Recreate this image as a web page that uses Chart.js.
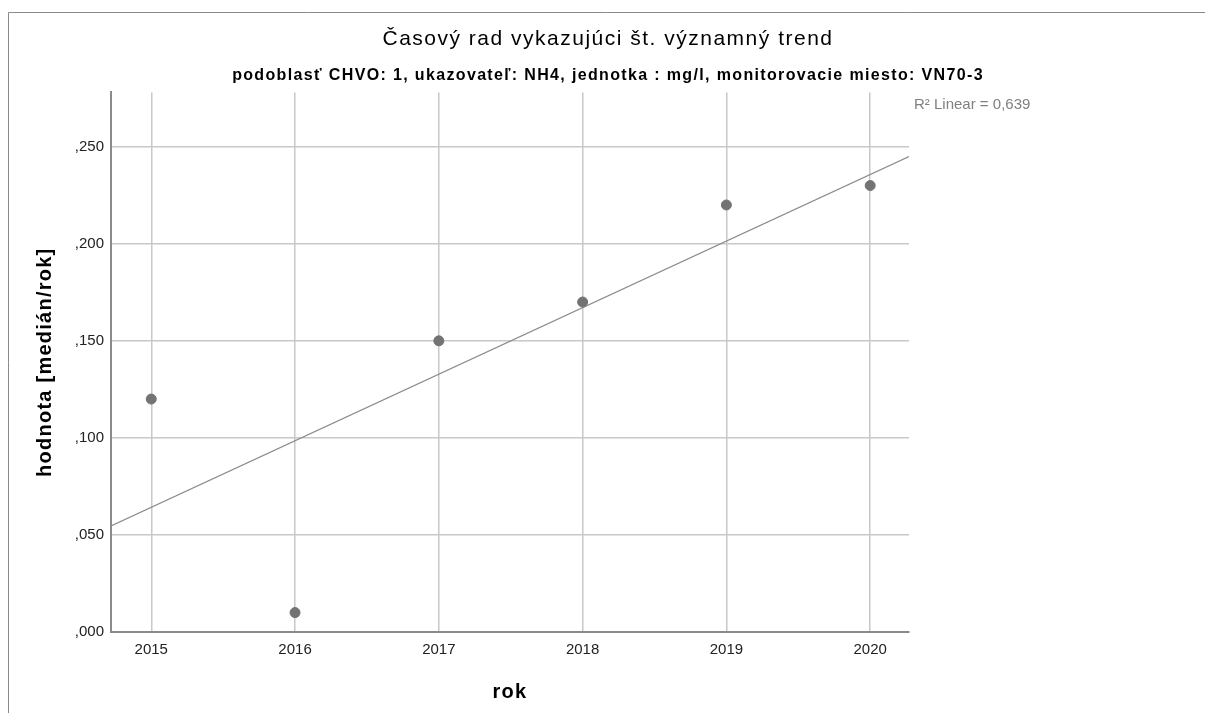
<!DOCTYPE html>
<html>
<head>
<meta charset="utf-8">
<script src="https://cdn.jsdelivr.net/npm/chart.js@4"></script>
<style>
html,body{margin:0;padding:0;background:#fff;}
#wrap{width:1205px;height:713px;position:relative;}
</style>
</head>
<body>
<div id="wrap"><canvas id="c" width="1205" height="713"></canvas></div>
<script>
const years = [2015, 2016, 2017, 2018, 2019, 2020];
const values = [0.12, 0.01, 0.15, 0.17, 0.22, 0.23];
const yTicks = [0, 0.05, 0.10, 0.15, 0.20, 0.25];
const xMin = 2014.72, xMax = 2020.27;
const yMin = 0, yMax = 0.278;
const r2Label = 'R² Linear = 0,639';

// least-squares linear fit from the data
const n = years.length;
const mx = years.reduce((a, b) => a + b, 0) / n;
const my = values.reduce((a, b) => a + b, 0) / n;
let sxy = 0, sxx = 0;
for (let i = 0; i < n; i++) { sxy += (years[i] - mx) * (values[i] - my); sxx += (years[i] - mx) ** 2; }
const slope = sxy / sxx, intercept = my - slope * mx;
const fitLine = [xMin, xMax].map(x => ({ x: x, y: intercept + slope * x }));

const FONT = "'Liberation Sans', Arial, sans-serif";

// letter spacing per font (the reference text is spaced wider than plain Arial)
const spacingFor = f => {
  if (/^(normal |400 )?21px/.test(f)) return '1.5px';
  if (/^(bold|700) 16px/.test(f)) return '1.35px';
  if (/^(bold|700) 20px/.test(f)) return '1.25px';
  return '0px';
};

const decor = {
  id: 'decor',
  beforeInit(chart) {
    const ctx = chart.ctx;
    const orig = ctx.fillText.bind(ctx);
    ctx.fillText = function (t, x, y, mw) {
      const prev = ctx.letterSpacing;
      ctx.letterSpacing = spacingFor(ctx.font);
      if (mw === undefined) orig(t, x, y); else orig(t, x, y, mw);
      ctx.letterSpacing = prev;
    };
  },
  beforeDraw(chart) {
    const ctx = chart.ctx;
    ctx.save();
    ctx.strokeStyle = '#8a8a8a';
    ctx.lineWidth = 1;
    ctx.beginPath();
    ctx.moveTo(8.5, 713);
    ctx.lineTo(8.5, 12.5);
    ctx.lineTo(1205, 12.5);
    ctx.stroke();
    ctx.restore();
  },
  afterDraw(chart) {
    const ctx = chart.ctx;
    const a = chart.chartArea;
    ctx.save();
    ctx.font = '15px ' + FONT;
    ctx.fillStyle = '#808080';
    ctx.textBaseline = 'middle';
    ctx.textAlign = 'left';
    ctx.letterSpacing = '0.5px';
    ctx.fillText(r2Label, a.right + 5, a.top + 12);
    ctx.restore();
  }
};

new Chart(document.getElementById('c'), {
  type: 'scatter',
  data: {
    datasets: [
      {
        type: 'line',
        data: fitLine,
        borderColor: '#8c8c8c',
        borderWidth: 1.2,
        pointRadius: 0,
        fill: false,
        order: 2
      },
      {
        data: years.map((y, i) => ({ x: y, y: values[i] })),
        backgroundColor: '#737373',
        borderColor: '#737373',
        pointRadius: 5,
        order: 1
      }
    ]
  },
  options: {
    responsive: false,
    animation: false,
    events: [],
    layout: { padding: { left: 11, right: 0, top: 0, bottom: 0 } },
    plugins: {
      legend: { display: false },
      tooltip: { enabled: false },
      title: {
        display: true,
        text: 'Časový rad vykazujúci št. významný trend',
        color: '#000',
        font: { family: FONT, size: 21, weight: 'normal', lineHeight: 1.2 },
        padding: { top: 27, bottom: 0 }
      },
      subtitle: {
        display: true,
        text: 'podoblasť CHVO: 1, ukazovateľ: NH4, jednotka : mg/l, monitorovacie miesto: VN70-3',
        color: '#000',
        font: { family: FONT, size: 16, weight: 'bold', lineHeight: 1.2 },
        padding: { top: 14, bottom: 7 }
      }
    },
    scales: {
      x: {
        type: 'linear',
        min: xMin,
        max: xMax,
        afterBuildTicks: s => { s.ticks = years.map(v => ({ value: v })); },
        afterFit: s => { s.height = 81; },
        ticks: {
          color: '#222',
          font: { family: FONT, size: 15 },
          padding: 9,
          callback: v => String(v)
        },
        grid: { color: '#c8c8c8', lineWidth: 1.5, drawTicks: false },
        border: { color: '#8a8a8a', width: 2 },
        title: {
          display: true,
          text: 'rok',
          color: '#000',
          font: { family: FONT, size: 20, weight: 'bold', lineHeight: 1.2 },
          padding: { top: 0, bottom: 9 }
        }
      },
      y: {
        type: 'linear',
        min: yMin,
        max: yMax,
        afterBuildTicks: s => { s.ticks = yTicks.map(v => ({ value: v })); },
        afterFit: s => { s.width = 100; },
        ticks: {
          color: '#222',
          font: { family: FONT, size: 15 },
          padding: 7,
          callback: v => ',' + Math.round(v * 1000).toString().padStart(3, '0')
        },
        grid: { color: '#c8c8c8', lineWidth: 1.5, drawTicks: false },
        border: { color: '#8a8a8a', width: 2 },
        title: {
          display: true,
          text: 'hodnota [medián/rok]',
          color: '#000',
          font: { family: FONT, size: 20, weight: 'bold', lineHeight: 1.2 },
          padding: { top: 22, bottom: 0 }
        }
      },
      yRight: {
        type: 'linear',
        position: 'right',
        min: yMin,
        max: yMax,
        afterFit: s => { s.width = 296; },
        ticks: { display: false },
        grid: { display: false, drawTicks: false },
        border: { display: false }
      }
    }
  },
  plugins: [decor]
});
</script>
</body>
</html>
